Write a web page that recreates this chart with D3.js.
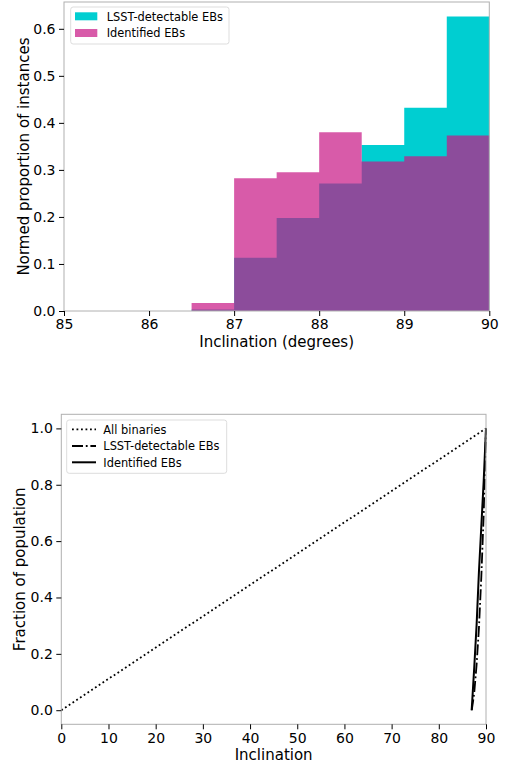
<!DOCTYPE html>
<html>
<head>
<meta charset="utf-8">
<script src="https://cdn.jsdelivr.net/npm/d3@7"></script>
<style>
  body { margin: 0; background: #fff; }
  svg { display: block; font-family: "DejaVu Sans", sans-serif; }
</style>
</head>
<body>
<svg id="chart" width="508" height="769"></svg>
<script>
// ---------- DATA ----------
// Top histogram (bin edges, width 0.5)
const binEdges = [86.5, 87.0, 87.5, 88.0, 88.5, 89.0, 89.5, 90.0];
const lsstValues = [0.003, 0.113, 0.198, 0.271, 0.353, 0.432, 0.626];
const identValues = [0.017, 0.282, 0.295, 0.380, 0.318, 0.329, 0.373];
const topXTicks = [85, 86, 87, 88, 89, 90];
const topYTicks = [0.0, 0.1, 0.2, 0.3, 0.4, 0.5, 0.6];
const topLegend = ["LSST-detectable EBs", "Identified EBs"];

// Bottom cumulative curves
const allIncl = [0, 90];
const allFrac = [0, 1];
const lsstIncl = [87.0, 87.0, 87.5, 88.0, 88.5, 89.0, 89.5, 90.0];
const lsstFrac = [0.0, 0.002, 0.06, 0.16, 0.29, 0.47, 0.69, 1.0];
const identIncl = [86.95, 87.0, 87.5, 88.0, 88.5, 89.0, 89.5, 90.0];
const identFrac = [0.0, 0.01, 0.15, 0.30, 0.49, 0.65, 0.81, 1.0];
const botXTicks = [0, 10, 20, 30, 40, 50, 60, 70, 80, 90];
const botYTicks = [0.0, 0.2, 0.4, 0.6, 0.8, 1.0];
const botLegend = ["All binaries", "LSST-detectable EBs", "Identified EBs"];

// ---------- STYLE ----------
const cyan = "#00CED1";
const pink = "#C71585"; // mediumvioletred with alpha 0.7
const pinkAlpha = 0.7;
const spineColor = "#b0b0b0";
const tickFont = 14, labelFont = 15, legendFont = 11.4;
const tickLen = 5, tickPad = 3.5;

const svg = d3.select("#chart");

function styleAxis(g) {
  g.select(".domain").remove();
  g.selectAll(".tick line").attr("stroke", "#000").attr("stroke-width", 1);
  g.selectAll(".tick text").attr("fill", "#000").style("font-size", tickFont + "px")
    .style("font-family", "DejaVu Sans");
}

function frame(g, x0, x1, y0, y1) {
  g.append("rect").attr("x", x0).attr("y", y0).attr("width", x1 - x0).attr("height", y1 - y0)
    .attr("fill", "none").attr("stroke", spineColor).attr("stroke-width", 1);
}

// ---------- TOP CHART ----------
{
  const L = 64, R = 489.3, T = 2, B = 311;
  const x = d3.scaleLinear().domain([85, 90]).range([L, R]);
  const y = d3.scaleLinear().domain([0, 0.657]).range([B, T]);
  const g = svg.append("g");

  const stepData = vals => {
    const pts = vals.map((v, i) => [binEdges[i], v]);
    pts.push([binEdges[binEdges.length - 1], vals[vals.length - 1]]);
    return pts;
  };
  const area = d3.area().x(d => x(d[0])).y0(y(0)).y1(d => y(d[1])).curve(d3.curveStepAfter);

  g.append("path").datum(stepData(lsstValues)).attr("d", area).attr("fill", cyan);
  g.append("path").datum(stepData(identValues)).attr("d", area).attr("fill", pink).attr("fill-opacity", pinkAlpha);

  frame(g, L, R, T, B);

  g.append("g").attr("transform", `translate(0,${B})`)
    .call(d3.axisBottom(x).tickValues(topXTicks).tickFormat(d3.format("d")).tickSize(tickLen).tickPadding(tickPad))
    .call(styleAxis);
  g.append("g").attr("transform", `translate(${L},0)`)
    .call(d3.axisLeft(y).tickValues(topYTicks).tickFormat(d3.format(".1f")).tickSize(tickLen).tickPadding(tickPad))
    .call(styleAxis);

  g.append("text").attr("x", (L + R) / 2).attr("y", 346.5).attr("text-anchor", "middle")
    .style("font-size", labelFont + "px").text("Inclination (degrees)");
  g.append("text").attr("transform", `translate(28.5,${(T + B) / 2}) rotate(-90)`).attr("text-anchor", "middle")
    .style("font-size", labelFont + "px").text("Normed proportion of instances");

  // legend
  const lg = g.append("g");
  lg.append("rect").attr("x", 70.7).attr("y", 7).attr("width", 158.3).attr("height", 37).attr("rx", 2.5)
    .attr("fill", "#fff").attr("fill-opacity", 0.8).attr("stroke", "#dddddd").attr("stroke-width", 1);
  const fills = [[cyan, 1], [pink, pinkAlpha]];
  const rowY = [16.3, 33];
  topLegend.forEach((t, i) => {
    lg.append("rect").attr("x", 75).attr("y", rowY[i] - 4).attr("width", 22.3).attr("height", 8)
      .attr("fill", fills[i][0]).attr("fill-opacity", fills[i][1]);
    lg.append("text").attr("x", 106.7).attr("y", rowY[i] + 4.2).style("font-size", legendFont + "px").text(t);
  });
}

// ---------- BOTTOM CHART ----------
{
  const L = 61.3, R = 486, T = 414.3, B = 724.3;
  const x = d3.scaleLinear().domain([0, 90]).range([L, R]);
  const y = d3.scaleLinear().domain([-0.05, 1.05]).range([B, T]);
  const g = svg.append("g");

  const line = d3.line().x(d => x(d[0])).y(d => y(d[1]));
  const series = [
    { inc: allIncl, frac: allFrac, dash: "1.8,2.7", width: 1.8 },
    { inc: lsstIncl, frac: lsstFrac, dash: "11,2.8,1.8,2.8", width: 1.8 },
    { inc: identIncl, frac: identFrac, dash: null, width: 2 }
  ];
  series.forEach(s => {
    g.append("path").datum(s.inc.map((v, i) => [v, s.frac[i]])).attr("d", line)
      .attr("fill", "none").attr("stroke", "#000").attr("stroke-width", s.width)
      .attr("stroke-dasharray", s.dash);
  });

  frame(g, L, R, T, B);

  g.append("g").attr("transform", `translate(0,${B})`)
    .call(d3.axisBottom(x).tickValues(botXTicks).tickFormat(d3.format("d")).tickSize(tickLen).tickPadding(tickPad))
    .call(styleAxis);
  g.append("g").attr("transform", `translate(${L},0)`)
    .call(d3.axisLeft(y).tickValues(botYTicks).tickFormat(d3.format(".1f")).tickSize(tickLen).tickPadding(tickPad))
    .call(styleAxis);

  g.append("text").attr("x", (L + R) / 2).attr("y", 759.5).attr("text-anchor", "middle")
    .style("font-size", labelFont + "px").text("Inclination");
  g.append("text").attr("transform", `translate(25,${(T + B) / 2}) rotate(-90)`).attr("text-anchor", "middle")
    .style("font-size", labelFont + "px").text("Fraction of population");

  // legend
  const lg = g.append("g");
  lg.append("rect").attr("x", 66.7).attr("y", 420).attr("width", 160).attr("height", 53.3).attr("rx", 2.5)
    .attr("fill", "#fff").attr("fill-opacity", 0.8).attr("stroke", "#dddddd").attr("stroke-width", 1);
  const rowY = [429.3, 446, 462.3];
  botLegend.forEach((t, i) => {
    lg.append("line").attr("x1", 72).attr("x2", 96).attr("y1", rowY[i]).attr("y2", rowY[i])
      .attr("stroke", "#000").attr("stroke-width", series[i].width).attr("stroke-dasharray", series[i].dash);
    lg.append("text").attr("x", 103.3).attr("y", rowY[i] + 4.2).style("font-size", legendFont + "px").text(t);
  });
}
</script>
</body>
</html>
